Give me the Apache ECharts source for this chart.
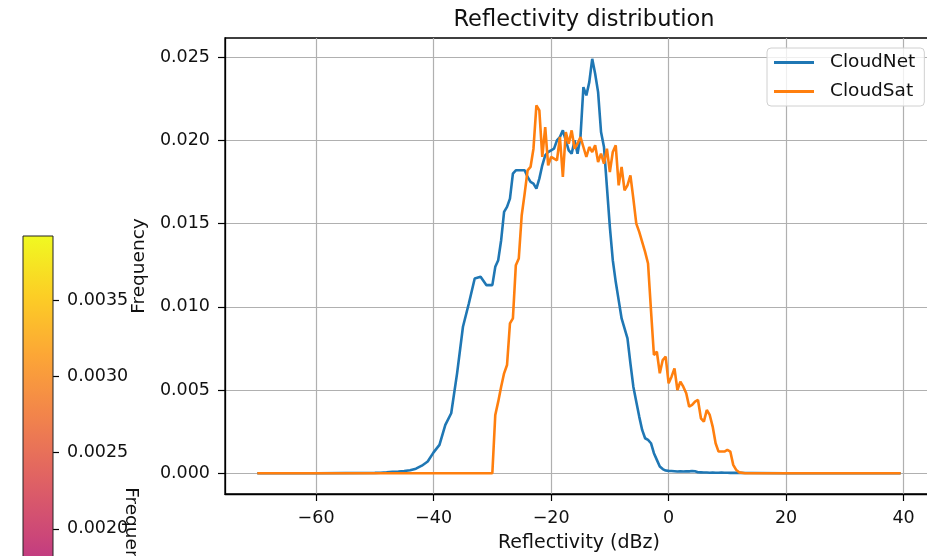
<!DOCTYPE html>
<html>
<head>
<meta charset="utf-8">
<script src="https://cdn.jsdelivr.net/npm/echarts@6/dist/echarts.min.js"></script>
<style>
html,body{margin:0;padding:0;background:#fff;}
#chart{width:927px;height:556px;}
</style>
</head>
<body>
<div id="chart"></div>
<script>
// Reflectivity bins (dBz)
const reflectivity = [-70, -60, -50, -49, -48, -47, -46, -45, -44, -43, -42, -41, -40, -39, -38, -37, -36, -35, -34, -33, -32, -31, -30,
  -29.5, -29, -28.5, -28, -27.5, -27, -26.5, -26, -25.5, -25, -24.5, -24, -23.5, -23, -22.5, -22, -21.5, -21, -20.5, -20,
  -19.5, -19, -18.5, -18, -17.5, -17, -16.5, -16, -15.5, -15, -14.5, -14, -13.5, -13, -12.5, -12, -11.5, -11, -10.5, -10,
  -9.5, -9, -8.5, -8, -7.5, -7, -6.5, -6, -5.5, -5, -4.5, -4, -3.5, -3, -2.5, -2, -1.5, -1, -0.5, 0,
  0.5, 1, 1.5, 2, 2.5, 3, 3.5, 4, 4.5, 5, 5.5, 6, 6.5, 7, 7.5, 8, 8.5, 9, 9.5, 10, 10.5, 11, 11.5, 12,
  13, 14, 20, 30, 39.5];

const cloudNet = [0, 0, 0.00002, 0.00003, 0.00005, 0.00008, 0.0001, 0.00013, 0.00018, 0.00027, 0.00045, 0.0007, 0.00125, 0.0017, 0.0029, 0.0036, 0.006, 0.0088, 0.0102, 0.0117, 0.0118, 0.0113, 0.0113,
  0.0124, 0.0128, 0.014, 0.0157, 0.016, 0.0165, 0.018, 0.0182, 0.0182, 0.0182, 0.0182, 0.0178, 0.0175, 0.0174, 0.0171, 0.0177, 0.0185, 0.0191, 0.0193, 0.0194,
  0.0195, 0.02, 0.0202, 0.0206, 0.02, 0.0194, 0.0192, 0.02, 0.0192, 0.0202, 0.0232, 0.0227, 0.0235, 0.0249, 0.024, 0.0229, 0.0205, 0.0196, 0.0172, 0.0148,
  0.0128, 0.0115, 0.0104, 0.0093, 0.0087, 0.0081, 0.0066, 0.0052, 0.0043, 0.0034, 0.0026, 0.0021, 0.002, 0.0018, 0.0012, 0.0008, 0.0004, 0.00025, 0.00016, 0.00014,
  0.00013, 0.00012, 0.0001, 0.00012, 0.0001, 0.00012, 0.00011, 0.00013, 0.00012, 0.00006, 0.00005, 0.00004, 0.00004, 0.00003, 0.00004, 0.00003, 0.00003, 0.00004, 0.00003, 0.00003, 0.00002, 0.00003, 0.00002, 0.00002,
  0.00001, 0.00001, 0, 0, 0];

const cloudSat = [0, 0, 0, 0, 0, 0, 0, 0, 0, 0, 0, 0, 0, 0, 0, 0, 0, 0, 0, 0, 0, 0, 0,
  0.0035, 0.0043, 0.0052, 0.006, 0.0065, 0.009, 0.0093, 0.0125, 0.0129, 0.0155, 0.0168, 0.0182, 0.0184, 0.0195, 0.0221, 0.0218, 0.019, 0.0208, 0.0185, 0.019,
  0.0189, 0.0188, 0.0202, 0.0178, 0.0205, 0.0198, 0.0206, 0.0195, 0.0198, 0.0202, 0.0196, 0.019, 0.0196, 0.0193, 0.0197, 0.0187, 0.0192, 0.0186, 0.0195, 0.0181,
  0.0193, 0.0197, 0.0173, 0.0184, 0.017, 0.0173, 0.0179, 0.0165, 0.015, 0.0145, 0.0139, 0.0133, 0.0126, 0.0098, 0.0071, 0.0073, 0.006, 0.0068, 0.007, 0.0054,
  0.0058, 0.0063, 0.005, 0.0055, 0.0052, 0.0048, 0.004, 0.0041, 0.0043, 0.0044, 0.0033, 0.0031, 0.0038, 0.0035, 0.0028, 0.0018, 0.0013, 0.0013, 0.0013, 0.0014, 0.0013, 0.0005, 0.0002, 0.00005,
  0, 0, 0, 0, 0];

const xTicks = [-60, -40, -20, 0, 20, 40];
const yTicks = [0, 0.005, 0.01, 0.015, 0.02, 0.025];
const colorbarRange = [0, 0.00392];
const colorbarTicks = [0.0005, 0.001, 0.0015, 0.002, 0.0025, 0.003, 0.0035];
const seriesNames = ['CloudNet', 'CloudSat'];

const FONT = 'DejaVu Sans';
const TXT = '#111';
const pair = (ys) => reflectivity.map((x, i) => [x, ys[i]]);
const fmtX = (v) => (v < 0 ? '\u2212' + Math.abs(v) : String(v));

const chart = echarts.init(document.getElementById('chart'), null, {renderer: 'canvas'});
chart.setOption({
  animation: false,
  backgroundColor: '#fff',
  textStyle: {fontFamily: FONT, color: TXT},
  title: {
    text: 'Reflectivity distribution',
    left: 579, top: 4, textAlign: 'center',
    textStyle: {fontFamily: FONT, fontSize: 22.5, fontWeight: 'normal', color: TXT}
  },
  legend: {
    orient: 'vertical',
    left: 767, top: 48,
    padding: [5, 9, 5, 7],
    icon: 'rect',
    itemWidth: 40, itemHeight: 3, itemGap: 10,
    backgroundColor: 'rgba(255,255,255,0.8)',
    borderColor: '#d0d0d0', borderWidth: 1, borderRadius: 4,
    textStyle: {fontFamily: FONT, fontSize: 18.5, color: TXT, padding: [0, 0, 0, 11]},
    data: seriesNames
  },
  grid: [
    {left: 225, top: 38, width: 708, height: 456, show: true, borderColor: '#000', borderWidth: 1.3, containLabel: false, outerBoundsMode: 'none'},
    {left: 23, top: 236, width: 30, height: 598, show: true, borderColor: '#222', borderWidth: 1, z: 5, outerBoundsMode: 'none'}
  ],
  xAxis: [
    {
      type: 'value', gridIndex: 0, min: -75.5, max: 45,
      name: 'Reflectivity (dBz)', nameLocation: 'middle', nameGap: 40,
      nameTextStyle: {fontFamily: FONT, fontSize: 19, color: TXT},
      axisLine: {show: true, onZero: false, lineStyle: {color: '#000', width: 1.3}},
      axisTick: {show: true, inside: false, length: 7, customValues: xTicks, lineStyle: {color: '#000', width: 1.2}},
      axisLabel: {show: true, customValues: xTicks, margin: 15, fontFamily: FONT, fontSize: 17.5, color: TXT, formatter: fmtX},
      splitLine: {show: true, lineStyle: {color: '#b0b0b0', width: 1.2}}
    },
    {
      type: 'category', gridIndex: 1, data: [''], show: false, boundaryGap: true
    }
  ],
  yAxis: [
    {
      type: 'value', gridIndex: 0, min: -0.00125, max: 0.02615,
      name: 'Frequency', nameLocation: 'middle', nameGap: 76, nameRotate: 90,
      nameTextStyle: {fontFamily: FONT, fontSize: 18.5, color: TXT},
      axisLine: {show: true, onZero: false, lineStyle: {color: '#000', width: 1.3}},
      axisTick: {show: true, inside: false, length: 7, customValues: yTicks, lineStyle: {color: '#000', width: 1.2}},
      axisLabel: {show: true, customValues: yTicks, margin: 15, fontFamily: FONT, fontSize: 17.5, color: TXT, formatter: (v) => v.toFixed(3)},
      splitLine: {show: true, lineStyle: {color: '#b0b0b0', width: 1.2}}
    },
    {
      type: 'value', gridIndex: 1, position: 'right', min: colorbarRange[0], max: colorbarRange[1],
      name: 'Frequency', nameLocation: 'middle', nameGap: 68, nameRotate: -90, nameMoveOverlap: false,
      nameTextStyle: {fontFamily: FONT, fontSize: 18.5, color: TXT},
      axisLine: {show: false},
      axisTick: {show: true, inside: false, length: 6, customValues: colorbarTicks, lineStyle: {color: '#000', width: 1.2}},
      axisLabel: {show: true, customValues: colorbarTicks, margin: 14, fontFamily: FONT, fontSize: 17.5, color: TXT, formatter: (v) => v.toFixed(4)},
      splitLine: {show: false}
    }
  ],
  series: [
    {
      name: seriesNames[0], type: 'line', xAxisIndex: 0, yAxisIndex: 0,
      data: pair(cloudNet), showSymbol: false, symbol: 'none',
      lineStyle: {color: '#1f77b4', width: 2.6}, itemStyle: {color: '#1f77b4'}, z: 3
    },
    {
      name: seriesNames[1], type: 'line', xAxisIndex: 0, yAxisIndex: 0,
      data: pair(cloudSat), showSymbol: false, symbol: 'none',
      lineStyle: {color: '#ff7f0e', width: 2.6}, itemStyle: {color: '#ff7f0e'}, z: 4
    },
    {
      name: 'colorbar', type: 'bar', xAxisIndex: 1, yAxisIndex: 1,
      data: [colorbarRange[1]], barWidth: '100%', silent: true,
      itemStyle: {
        color: new echarts.graphic.LinearGradient(0, 0, 0, 1, [
          {offset: 0.0, color: '#f0f921'}, {offset: 0.1, color: '#fcce25'}, {offset: 0.2, color: '#fca636'},
          {offset: 0.3, color: '#f2844b'}, {offset: 0.4, color: '#e16462'}, {offset: 0.5, color: '#cc4778'},
          {offset: 0.6, color: '#b12a90'}, {offset: 0.7, color: '#8f0da4'}, {offset: 0.8, color: '#6a00a8'},
          {offset: 0.9, color: '#41049d'}, {offset: 1.0, color: '#0d0887'}
        ])
      }
    }
  ]
});
</script>
</body>
</html>
